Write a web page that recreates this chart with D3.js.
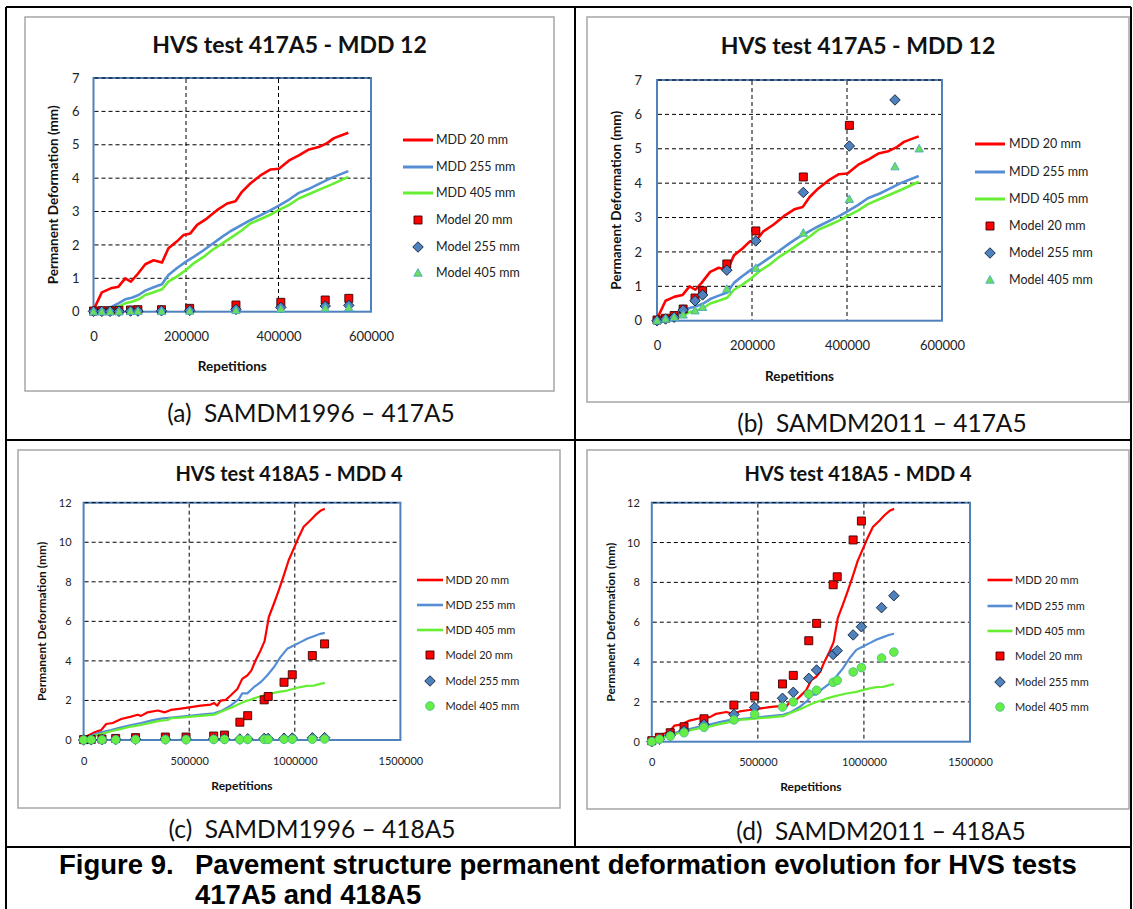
<!DOCTYPE html>
<html>
<head>
<meta charset="utf-8">
<script src="https://cdn.jsdelivr.net/npm/d3@7"></script>
<style>
  body { margin: 0; background: #fff; }
  svg { display: block; }
</style>
</head>
<body>
<svg id="fig" width="1133" height="909"></svg>
<script>
// ---- measured MDD curves, [repetitions, permanent deformation (mm)] ----
const mdd20_417 = [[0,0.05],[18000,0.58],[37500,0.7],[54000,0.75],[68600,1.0],[80900,0.9],[93900,1.1],
  [112000,1.42],[130000,1.54],[148000,1.47],[162000,1.9],[180000,2.1],[195000,2.3],[209000,2.34],
  [224000,2.6],[245000,2.79],[267000,3.04],[289000,3.24],[307000,3.31],[321000,3.59],[339000,3.84],
  [361000,4.08],[383000,4.26],[401000,4.28],[423000,4.53],[444000,4.68],[466000,4.86],[487000,4.93],
  [505000,5.05],[520000,5.2],[535000,5.28],[551000,5.36]];
const mdd255_417 = [[0,0.03],[21600,0.05],[39700,0.15],[54000,0.25],[68600,0.37],[83000,0.42],[97500,0.5],
  [112000,0.63],[130000,0.73],[148000,0.82],[162000,1.1],[180000,1.3],[200000,1.5],[216600,1.64],
  [238000,1.84],[256000,2.02],[278000,2.24],[296000,2.41],[339000,2.74],[364000,2.91],[383000,3.04],
  [400000,3.17],[423000,3.36],[444000,3.56],[469000,3.7],[491000,3.85],[513000,4.0],[551000,4.21]];
const mdd405_417 = [[0,0.02],[21600,0.03],[39700,0.07],[54000,0.15],[68600,0.25],[83000,0.3],[97500,0.37],
  [112000,0.5],[130000,0.58],[148000,0.67],[162000,0.9],[180000,1.05],[200000,1.25],[216600,1.45],
  [238000,1.64],[256000,1.84],[278000,2.04],[300000,2.24],[321000,2.44],[339000,2.64],[364000,2.79],
  [383000,2.91],[400000,3.04],[423000,3.2],[444000,3.39],[469000,3.54],[491000,3.67],[513000,3.8],[551000,4.04]];

const mdd20_418 = [[0,0.05],[20400,0.22],[52000,0.39],[83000,0.5],[107000,0.81],[138000,0.86],[178000,1.06],
  [225000,1.18],[256000,1.28],[272000,1.22],[303000,1.4],[351000,1.49],[385000,1.4],[413000,1.52],
  [461000,1.59],[508000,1.66],[555000,1.74],[602000,1.79],[618000,1.87],[633000,1.74],[649000,1.99],
  [673000,2.03],[696000,2.25],[728000,2.58],[751000,3.09],[775000,3.26],[794000,3.51],[814000,4.02],
  [838000,4.53],[857000,5.0],[877000,6.22],[901000,6.89],[924000,7.57],[948000,8.33],[971000,9.09],
  [995000,9.68],[1019000,10.27],[1042000,10.78],[1074000,11.11],[1097000,11.37],[1121000,11.59],[1142000,11.69]];
const mdd255_418 = [[0,0.02],[36000,0.22],[83000,0.39],[130000,0.5],[178000,0.64],[225000,0.76],[272000,0.86],
  [319000,0.98],[366000,1.08],[429000,1.15],[500000,1.22],[555000,1.28],[618000,1.35],[657000,1.49],
  [696000,1.74],[736000,2.08],[751000,2.36],[775000,2.36],[806000,2.67],[838000,2.92],[869000,3.26],
  [901000,3.68],[932000,4.19],[964000,4.61],[995000,4.78],[1027000,4.95],[1058000,5.12],[1090000,5.25],
  [1121000,5.37],[1142000,5.42]];
const mdd405_418 = [[0,0.02],[36000,0.17],[83000,0.3],[130000,0.44],[178000,0.56],[225000,0.68],[272000,0.76],
  [319000,0.88],[366000,0.98],[398000,1.01],[413000,1.1],[461000,1.13],[508000,1.18],[555000,1.22],
  [618000,1.28],[665000,1.49],[704000,1.66],[744000,1.86],[767000,1.96],[791000,2.04],[822000,2.16],
  [869000,2.3],[917000,2.42],[964000,2.5],[1011000,2.64],[1058000,2.74],[1090000,2.75],[1121000,2.84],[1142000,2.89]];

// ---- model predictions (null = above the axis maximum, not shown) ----
const modelReps417 = [0, 18000, 36000, 55000, 80000, 96000, 147000, 208000, 308000, 405000, 501000, 552000];
const m96_20_417  = [0.02, 0.03, 0.03, 0.04, 0.05, 0.06, 0.06, 0.1, 0.2, 0.28, 0.35, 0.4];
const m96_255_417 = [0.01, 0.01, 0.01, 0.01, 0.02, 0.02, 0.03, 0.04, 0.07, 0.13, 0.17, 0.19];
const m96_405_417 = [0, 0, 0, 0, 0.01, 0.01, 0.01, 0.02, 0.04, 0.08, 0.1, 0.12];
const m11_20_417  = [0.02, 0.07, 0.15, 0.34, 0.66, 0.87, 1.65, 2.61, 4.18, 5.68, null, null];
const m11_255_417 = [0, 0.05, 0.1, 0.31, 0.58, 0.75, 1.47, 2.32, 3.73, 5.08, 6.42, null];
const m11_405_417 = [0, 0.05, 0.1, 0.17, 0.29, 0.39, 0.92, 1.53, 2.55, 3.53, 4.48, 5.0];

const modelReps418 = [0, 36000, 87000, 152000, 246000, 387000, 485000, 616000, 667000, 740000, 777000,
  855000, 874000, 949000, 988000, 1083000, 1141000];
const m96_20_418  = [0.02, 0.03, 0.05, 0.08, 0.12, 0.15, 0.15, 0.2, 0.25, 0.9, 1.23, 2.03, 2.2, 2.92, 3.3, 4.27, 4.86];
const m96_255_418 = [0, 0.01, 0.02, 0.03, 0.04, 0.05, 0.05, 0.06, 0.06, 0.05, 0.06, 0.08, 0.08, 0.09, 0.1, 0.11, 0.12];
const m96_405_418 = [0, 0.01, 0.01, 0.01, 0.02, 0.02, 0.02, 0.03, 0.03, 0.02, 0.03, 0.03, 0.03, 0.04, 0.04, 0.04, 0.05];
const m11_20_418  = [0.05, 0.22, 0.45, 0.75, 1.15, 1.84, 2.29, 2.9, 3.33, 5.07, 5.94, 7.88, 8.28, 10.13, 11.08, null, null];
const m11_255_418 = [0, 0.12, 0.33, 0.55, 0.87, 1.37, 1.72, 2.18, 2.48, 3.18, 3.6, 4.38, 4.57, 5.36, 5.77, 6.73, 7.33];
const m11_405_418 = [0, 0.12, 0.28, 0.45, 0.72, 1.09, 1.37, 1.74, 2.0, 2.39, 2.58, 2.98, 3.08, 3.5, 3.72, 4.2, 4.5];

const yTicks417 = [0, 1, 2, 3, 4, 5, 6, 7];
const xTicks417 = [0, 200000, 400000, 600000];
const yTicks418 = [0, 2, 4, 6, 8, 10, 12];
const xTicks418 = [0, 500000, 1000000, 1500000];

const legendLabels = ["MDD 20 mm", "MDD 255 mm", "MDD 405 mm", "Model 20 mm", "Model 255 mm", "Model 405 mm"];

const FONT = "Lato, 'Open Sans', sans-serif";
const RED = "#ff0000", BLUE = "#558ed5", GREEN = "#66ee33";

const svg = d3.select("#fig");

function markerPath(type, s) {
  if (type === "square") return `M${-s},${-s}H${s}V${s}H${-s}Z`;
  if (type === "diamond") return `M0,${-s * 1.25}L${s * 1.25},0L0,${s * 1.25}L${-s * 1.25},0Z`;
  if (type === "triangle") return `M0,${-s * 1.1}L${s * 1.05},${s * 0.8}L${-s * 1.05},${s * 0.8}Z`;
  return d3.symbol(d3.symbolCircle, Math.PI * s * s)();
}
const markerStyle = {
  square:   { fill: RED, stroke: "#3a0000" },
  diamond:  { fill: "#4f81bd", stroke: "#10203a" },
  triangle: { fill: "#6ddc5a", stroke: "#4bacc6" },
  circle:   { fill: "#66ee44", stroke: "#4bc08a" }
};

const panels = [
  { box: [25, 17, 554, 391], plot: [93.5, 371, 78, 311.7], titleY: 45, titleSize: 23,
    title: "HVS test 417A5 - MDD 12", yMax: 7, xMax: 600000, yTicks: yTicks417, xTicks: xTicks417,
    lines: [mdd20_417, mdd255_417, mdd405_417], reps: modelReps417,
    models: [m96_20_417, m96_255_417, m96_405_417], third: "triangle",
    tickSize: 13, yPad: 14, xPad: 20, xTitleY: 366, yTitleX: 53, axisTitleSize: 13.5, lw: 2.6,
    legend: { x0: 403, x1: 433, tx: 436, ys: [140, 167, 193, 220, 247, 273], size: 12.5 },
    caption: "(a)  SAMDM1996 \u2013 417A5", capX: 311, capY: 413 },
  { box: [587, 17, 1129, 402], plot: [657, 942, 80, 320.7], titleY: 46, titleSize: 23,
    title: "HVS test 417A5 - MDD 12", yMax: 7, xMax: 600000, yTicks: yTicks417, xTicks: xTicks417,
    lines: [mdd20_417, mdd255_417, mdd405_417], reps: modelReps417,
    models: [m11_20_417, m11_255_417, m11_405_417], third: "triangle",
    tickSize: 13, yPad: 15, xPad: 20, xTitleY: 376, yTitleX: 616, axisTitleSize: 13.5, lw: 2.6,
    legend: { x0: 975, x1: 1005, tx: 1009, ys: [144, 172, 199, 226, 253, 280], size: 12.5 },
    caption: "(b)  SAMDM2011 \u2013 417A5", capX: 882, capY: 423 },
  { box: [18, 450, 560, 808], plot: [83.6, 400.4, 502.7, 740], titleY: 474, titleSize: 20,
    title: "HVS test 418A5 - MDD 4", yMax: 12, xMax: 1500000, yTicks: yTicks418, xTicks: xTicks418,
    lines: [mdd20_418, mdd255_418, mdd405_418], reps: modelReps418,
    models: [m96_20_418, m96_255_418, m96_405_418], third: "circle",
    tickSize: 11, yPad: 12, xPad: 17, xTitleY: 786, yTitleX: 42, axisTitleSize: 12, lw: 2.2,
    legend: { x0: 417, x1: 443, tx: 445.5, ys: [580, 605, 630, 655, 681, 706], size: 11 },
    caption: "(c)  SAMDM1996 \u2013 418A5", capX: 312, capY: 829 },
  { box: [587, 450, 1129, 809], plot: [651.8, 970, 502.7, 741.7], titleY: 474, titleSize: 20,
    title: "HVS test 418A5 - MDD 4", yMax: 12, xMax: 1500000, yTicks: yTicks418, xTicks: xTicks418,
    lines: [mdd20_418, mdd255_418, mdd405_418], reps: modelReps418,
    models: [m11_20_418, m11_255_418, m11_405_418], third: "circle",
    tickSize: 11, yPad: 12, xPad: 16.5, xTitleY: 787, yTitleX: 611, axisTitleSize: 12, lw: 2.2,
    legend: { x0: 987.5, x1: 1012.5, tx: 1015, ys: [580, 606, 631, 656, 682, 707], size: 11 },
    caption: "(d)  SAMDM2011 \u2013 418A5", capX: 881, capY: 831 }
];

function drawPanel(p) {
  const g = svg.append("g");
  const [bx0, by0, bx1, by1] = p.box;
  const [px0, px1, py0, py1] = p.plot;

  g.append("rect")
    .attr("x", bx0).attr("y", by0)
    .attr("width", bx1 - bx0).attr("height", by1 - by0)
    .attr("fill", "#fff").attr("stroke", "#a6a6a6").attr("stroke-width", 1.5);

  g.append("text")
    .attr("x", (bx0 + bx1) / 2).attr("y", p.titleY)
    .attr("dy", "0.35em").attr("text-anchor", "middle")
    .attr("font-family", FONT).attr("font-weight", "bold").attr("font-size", p.titleSize)
    .attr("fill", "#111")
    .text(p.title);

  const x = d3.scaleLinear().domain([0, p.xMax]).range([px0, px1]);
  const y = d3.scaleLinear().domain([0, p.yMax]).range([py1, py0]);

  // plot area border
  g.append("rect")
    .attr("x", px0).attr("y", py0)
    .attr("width", px1 - px0).attr("height", py1 - py0)
    .attr("fill", "none").attr("stroke", "#4f81bd").attr("stroke-width", 2);

  // dashed gridlines
  g.selectAll(".hgrid").data(p.yTicks.filter(d => d > 0)).join("line")
    .attr("x1", px0 + 1).attr("x2", px1 - 1)
    .attr("y1", d => y(d)).attr("y2", d => y(d))
    .attr("stroke", "#000").attr("stroke-width", 1).attr("stroke-dasharray", "4,3");
  g.selectAll(".vgrid").data(p.xTicks.filter(d => d > 0 && d < p.xMax)).join("line")
    .attr("x1", d => x(d)).attr("x2", d => x(d))
    .attr("y1", py0 + 1).attr("y2", py1 - 1)
    .attr("stroke", "#000").attr("stroke-width", 1).attr("stroke-dasharray", "4,3");

  const yAxis = g.append("g").attr("transform", `translate(${px0},0)`)
    .call(d3.axisLeft(y).tickValues(p.yTicks).tickSize(0).tickPadding(p.yPad).tickFormat(d3.format("d")));
  const xAxis = g.append("g").attr("transform", `translate(0,${py1})`)
    .call(d3.axisBottom(x).tickValues(p.xTicks).tickSize(0).tickPadding(p.xPad).tickFormat(d3.format("d")));
  [yAxis, xAxis].forEach(a => {
    a.select(".domain").remove();
    a.selectAll("text").attr("font-family", FONT).attr("font-size", p.tickSize).attr("fill", "#222");
  });

  g.append("text")
    .attr("x", (px0 + px1) / 2).attr("y", p.xTitleY).attr("dy", "0.35em")
    .attr("text-anchor", "middle")
    .attr("font-family", FONT).attr("font-weight", "bold").attr("font-size", p.axisTitleSize)
    .attr("fill", "#111").text("Repetitions");
  g.append("text")
    .attr("transform", `translate(${p.yTitleX},${(py0 + py1) / 2}) rotate(-90)`)
    .attr("dy", "0.35em").attr("text-anchor", "middle")
    .attr("font-family", FONT).attr("font-weight", "bold").attr("font-size", p.axisTitleSize)
    .attr("fill", "#111").text("Permanent Deformation (mm)");

  // measured curves
  const lineGen = d3.line().x(d => x(d[0])).y(d => y(d[1]));
  const lineColors = [RED, BLUE, GREEN];
  g.selectAll(".mdd").data(p.lines).join("path")
    .attr("d", lineGen)
    .attr("fill", "none")
    .attr("stroke", (d, i) => lineColors[i])
    .attr("stroke-width", p.lw)
    .attr("stroke-linejoin", "round");

  // model points
  const types = ["square", "diamond", p.third];
  const sizes = { square: 4, diamond: 4.2, triangle: 4, circle: 4.3 };
  p.models.forEach((vals, si) => {
    const t = types[si];
    const pts = p.reps.map((r, i) => [r, vals[i]]).filter(d => d[1] != null);
    g.selectAll(null).data(pts).join("path")
      .attr("transform", d => `translate(${x(d[0])},${y(d[1])})`)
      .attr("d", markerPath(t, sizes[t]))
      .attr("fill", markerStyle[t].fill)
      .attr("stroke", markerStyle[t].stroke)
      .attr("stroke-width", 0.9);
  });

  // legend
  const L = p.legend;
  legendLabels.forEach((lab, i) => {
    const ly = L.ys[i];
    if (i < 3) {
      g.append("line").attr("x1", L.x0).attr("x2", L.x1).attr("y1", ly).attr("y2", ly)
        .attr("stroke", lineColors[i]).attr("stroke-width", p.lw + 0.4);
    } else {
      const t = types[i - 3];
      g.append("path")
        .attr("transform", `translate(${(L.x0 + L.x1) / 2},${ly})`)
        .attr("d", markerPath(t, sizes[t]))
        .attr("fill", markerStyle[t].fill)
        .attr("stroke", markerStyle[t].stroke)
        .attr("stroke-width", 0.9);
    }
    g.append("text").attr("x", L.tx).attr("y", ly).attr("dy", "0.35em")
      .attr("font-family", FONT).attr("font-size", L.size).attr("fill", "#222")
      .text(lab);
  });

  svg.append("text")
    .attr("x", p.capX).attr("y", p.capY).attr("dy", "0.35em")
    .attr("text-anchor", "middle").style("white-space", "pre")
    .attr("font-family", FONT).attr("font-size", 24.5).attr("fill", "#111")
    .text(p.caption);
}

panels.forEach(drawPanel);

// table rules of the figure
const rules = [
  [6, 7, 1131, 7], [6, 440, 1131, 440], [6, 847, 1131, 847],
  [6, 7, 6, 909], [1131, 7, 1131, 909], [575, 7, 575, 847]
];
svg.selectAll(".rule").data(rules).join("line")
  .attr("x1", d => d[0]).attr("y1", d => d[1]).attr("x2", d => d[2]).attr("y2", d => d[3])
  .attr("stroke", "#000").attr("stroke-width", 2);

// figure caption
const capFont = "'Liberation Sans', Arial, sans-serif";
function capText(x, y, s) {
  return svg.append("text").attr("x", x).attr("y", y)
    .attr("font-family", capFont).attr("font-weight", "bold").attr("font-size", 27.5).attr("fill", "#000")
    .text(s);
}
capText(59, 874, "Figure 9.");
capText(195, 874, "Pavement structure permanent deformation evolution for HVS tests");
capText(195, 904, "417A5 and 418A5");
</script>
</body>
</html>
